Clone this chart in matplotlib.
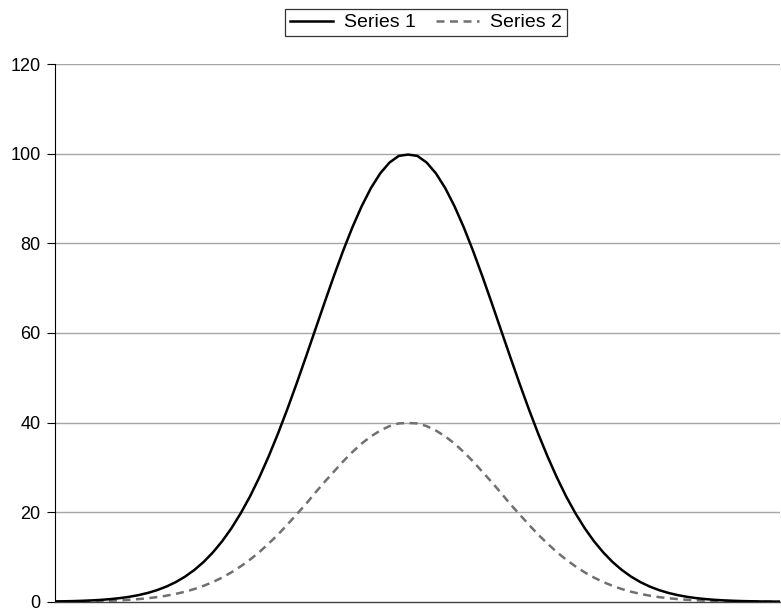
import matplotlib
matplotlib.use('Agg')
import matplotlib.pyplot as plt
import numpy as np

plt.rcParams['font.family'] = ['Liberation Sans', 'DejaVu Sans']

# values, one per category (evenly spaced along x)
series1 = [0.07, 0.11, 0.15, 0.22, 0.31, 0.43, 0.60, 0.82, 1.11, 1.49,
           1.98, 2.61, 3.40, 4.39, 5.61, 7.10, 8.89, 11.03, 13.53, 16.44,
           19.79, 23.55, 27.80, 32.47, 37.53, 42.96, 48.68, 54.61, 60.65, 66.69,
           72.61, 78.27, 83.53, 88.25, 92.31, 95.60, 98.02, 99.50,
           99.8,
           99.50, 98.02, 95.60, 92.31, 88.25, 83.53, 78.27, 72.61, 66.69, 60.65,
           54.61, 48.68, 42.96, 37.53, 32.47, 27.80, 23.55, 19.79, 16.44, 13.53,
           11.03, 8.89, 7.10, 5.61, 4.39, 3.40, 2.61, 1.98, 1.49, 1.11,
           0.82, 0.60, 0.43, 0.31, 0.22, 0.15, 0.11, 0.07, 0.05, 0.03]
series2 = [0.03, 0.04, 0.06, 0.09, 0.12, 0.17, 0.24, 0.33, 0.44, 0.60,
           0.79, 1.04, 1.36, 1.76, 2.24, 2.84, 3.56, 4.41, 5.41, 6.58,
           7.92, 9.42, 11.1, 13.0, 15.0, 17.2, 19.5, 21.8, 24.3, 26.7,
           29.0, 31.3, 33.4, 35.3, 36.9, 38.2, 39.2, 39.8,
           39.9,
           39.8, 39.2, 38.2, 36.9, 35.3, 33.4, 31.3, 29.0, 26.7, 24.3,
           21.8, 19.5, 17.2, 15.0, 13.0, 11.1, 9.42, 7.92, 6.58, 5.41,
           4.41, 3.56, 2.84, 2.24, 1.76, 1.36, 1.04, 0.79, 0.60, 0.44,
           0.33, 0.24, 0.17, 0.12, 0.09, 0.06, 0.04, 0.03, 0.02, 0.01]
categories = np.arange(len(series1))
y_ticks = [0, 20, 40, 60, 80, 100, 120]

fig = plt.figure(figsize=(7.81, 6.10), dpi=100)
ax = fig.add_axes([0.0704, 0.0135, 0.928, 0.8815])

for y in y_ticks[1:]:
    ax.axhline(y, color='#a6a6a6', lw=1.0, zorder=1)

ax.plot(categories, series1, color='black', lw=1.8, label='Series 1', zorder=3)
ax.plot(categories, series2, color='#707070', lw=1.8, ls=(0, (3.2, 2.2)),
        label='Series 2', zorder=2)

ax.set_xlim(categories[0], categories[-1])
ax.set_ylim(0, 120)
ax.set_yticks(y_ticks)
ax.set_xticks([])
ax.tick_params(axis='y', labelsize=13, length=5.5, width=0.8, pad=5)

for side in ['top', 'right']:
    ax.spines[side].set_visible(False)
ax.spines['left'].set_linewidth(0.8)
ax.spines['bottom'].set_linewidth(1.0)
ax.spines['bottom'].set_color('#404040')

leg = fig.legend(loc='center', bbox_to_anchor=(0.5455, 0.963), ncol=2,
                 fontsize=14, frameon=True, fancybox=False, handlelength=2.2,
                 handletextpad=0.6, columnspacing=1.0, borderpad=0.25,
                 borderaxespad=0)
leg.get_frame().set_edgecolor('black')
leg.get_frame().set_linewidth(0.9)

fig.savefig('out.png', dpi=100)
